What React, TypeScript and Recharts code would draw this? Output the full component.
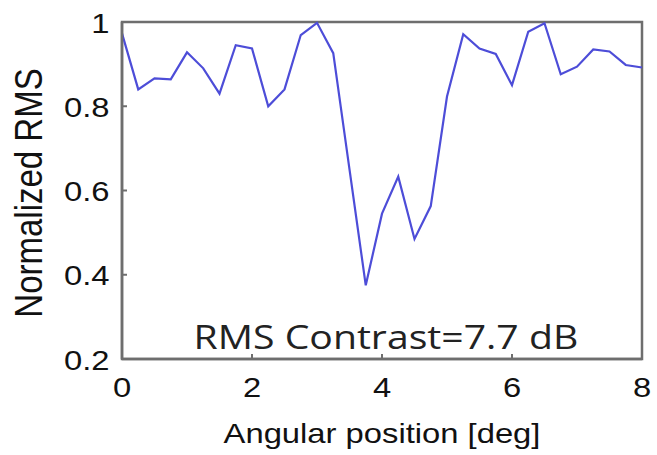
import React from 'react';
import { LineChart, Line, XAxis, YAxis, ReferenceDot, ReferenceArea, Label } from 'recharts';

const angles = [0, 0.25, 0.5, 0.75, 1, 1.25, 1.5, 1.75, 2, 2.25, 2.5, 2.75, 3, 3.25, 3.5, 3.75, 4, 4.25, 4.5, 4.75, 5, 5.25, 5.5, 5.75, 6, 6.25, 6.5, 6.75, 7, 7.25, 7.5, 7.75, 8];
const rmsValues = [0.973, 0.84, 0.866, 0.864, 0.928, 0.89, 0.83, 0.945, 0.937, 0.8, 0.84, 0.969, 0.998, 0.926, 0.65, 0.375, 0.545, 0.633, 0.485, 0.563, 0.823, 0.971, 0.937, 0.924, 0.85, 0.977, 0.997, 0.876, 0.894, 0.935, 0.93, 0.898, 0.892];
const xTicks = [0, 2, 4, 6, 8];
const yTicks = [0.2, 0.4, 0.6, 0.8, 1];
const yTickLabels = ['0.2', '0.4', '0.6', '0.8', '1'];
const annotation = 'RMS Contrast=7.7 dB';
const xLabel = 'Angular position [deg]';
const yLabel = 'Normalized RMS';

const data = angles.map((a, i) => ({ x: a, y: rmsValues[i] }));

const SX = 1.17;
const FONT = '"Liberation Sans", Arial, sans-serif';
const AXIS = '#6e6e6e';
const TEXT = '#111';

const XTick = (p: any) => (
  <text transform={`translate(${p.x},${p.y + 38}) scale(${SX},1)`} textAnchor="middle" fontFamily={FONT} fontSize={28} fill={TEXT}>
    {String(p.payload.value)}
  </text>
);

const YTick = (p: any) => {
  const idx = yTicks.indexOf(p.payload.value);
  const label = idx >= 0 ? yTickLabels[idx] : String(p.payload.value);
  return (
    <text transform={`translate(${p.x},${p.y + 10.5}) scale(${SX},1)`} textAnchor="end" fontFamily={FONT} fontSize={28} fill={TEXT}>
      {label}
    </text>
  );
};

export default function App() {
  return (
    <div style={{ position: 'absolute', left: 0, top: 0, width: 657, height: 455, background: '#fff' }}>
      <LineChart width={657} height={455} data={data} margin={{ top: 22, right: 15, left: 0, bottom: 0 }}>
        <ReferenceArea
          x1={0}
          x2={8}
          y1={0.2}
          y2={1}
          fill="none"
          fillOpacity={0}
          stroke={AXIS}
          strokeWidth={2.5}
        />
        <XAxis
          dataKey="x"
          type="number"
          domain={[0, 8]}
          ticks={xTicks}
          height={96}
          axisLine={{ stroke: AXIS, strokeWidth: 2.5 }}
          tickLine={{ stroke: AXIS, strokeWidth: 2 }}
          tickSize={-5}
          tickMargin={5}
          tick={XTick}
          interval={0}
        >
          <Label
            content={(p: any) => {
              const vb = p.viewBox;
              return (
                <text transform={`translate(${vb.x + vb.width / 2},${vb.y + 84}) scale(${SX},1)`} textAnchor="middle" fontFamily={FONT} fontSize={28} fill={TEXT}>
                  {xLabel}
                </text>
              );
            }}
          />
        </XAxis>
        <YAxis
          type="number"
          domain={[0.2, 1]}
          ticks={yTicks}
          width={122}
          axisLine={{ stroke: AXIS, strokeWidth: 2.5 }}
          tickLine={{ stroke: AXIS, strokeWidth: 2 }}
          tickSize={-5}
          tickMargin={17.5}
          tick={YTick}
          interval={0}
        >
          <Label
            content={(p: any) => {
              const vb = p.viewBox;
              return (
                <text transform={`translate(41.5,${vb.y + vb.height / 2 + 2.5}) scale(${SX},1) rotate(-90)`} textAnchor="middle" fontFamily={FONT} fontSize={33} fill={TEXT}>
                  {yLabel}
                </text>
              );
            }}
          />
        </YAxis>
        <Line
          type="linear"
          dataKey="y"
          stroke="#4d4dd8"
          strokeWidth={2.2}
          dot={false}
          isAnimationActive={false}
        />
        <ReferenceDot
          x={4.06}
          y={0.2233}
          r={0}
          fill="none"
          stroke="none"
          label={(p: any) => {
            const vb = p.viewBox;
            return (
              <text transform={`translate(${vb.x},${vb.y}) scale(${SX},1)`} textAnchor="middle" fontFamily='"Open Sans", sans-serif' fontSize={33.5} fill="#222">
                {annotation}
              </text>
            );
          }}
        />
      </LineChart>
    </div>
  );
}
